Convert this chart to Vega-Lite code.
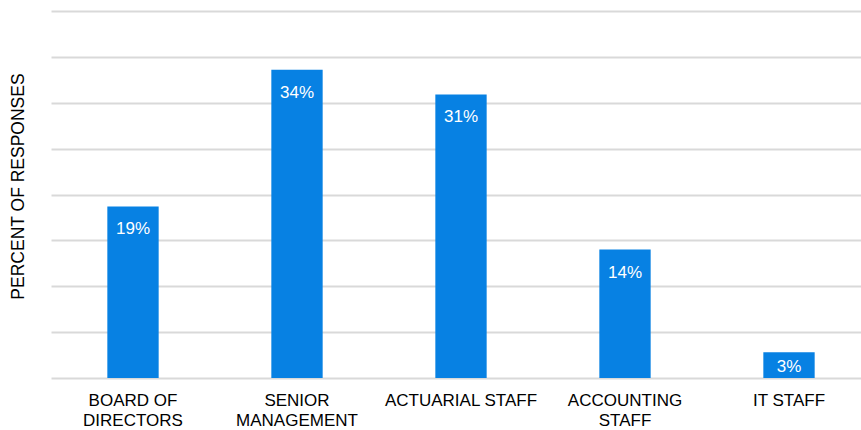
{
  "$schema": "https://vega.github.io/schema/vega-lite/v6.json",
  "width": 820,
  "height": 367,
  "autosize": {"type": "none"},
  "padding": {"left": 51, "top": 11, "right": 0, "bottom": 52},
  "background": "white",
  "config": {
    "font": "Liberation Sans",
    "view": {"stroke": null}
  },
  "data": {
    "values": [
      {"role": "BOARD OF DIRECTORS", "pct": 18.7, "label": "19%"},
      {"role": "SENIOR MANAGEMENT", "pct": 33.6, "label": "34%"},
      {"role": "ACTUARIAL STAFF", "pct": 30.9, "label": "31%"},
      {"role": "ACCOUNTING STAFF", "pct": 14.0, "label": "14%"},
      {"role": "IT STAFF", "pct": 2.8, "label": "3%"}
    ]
  },
  "encoding": {
    "x": {
      "field": "role",
      "type": "nominal",
      "sort": null,
      "scale": {"paddingInner": 0.687, "paddingOuter": 0.3435},
      "axis": {
        "title": null,
        "domain": false,
        "ticks": false,
        "labelAngle": 0,
        "labelFontSize": 17,
        "labelColor": "#000000",
        "labelPadding": 14,
        "labelLineHeight": 20,
        "labelBaseline": "top",
        "labelExpr": "datum.value == 'BOARD OF DIRECTORS' ? ['BOARD OF', 'DIRECTORS'] : datum.value == 'SENIOR MANAGEMENT' ? ['SENIOR', 'MANAGEMENT'] : datum.value == 'ACCOUNTING STAFF' ? ['ACCOUNTING', 'STAFF'] : datum.value"
      }
    },
    "y": {
      "field": "pct",
      "type": "quantitative",
      "scale": {"domain": [0, 40], "nice": false},
      "axis": {
        "title": "PERCENT OF RESPONSES",
        "values": [0, 5, 10, 15, 20, 25, 30, 35, 40],
        "labels": false,
        "ticks": false,
        "domain": false,
        "grid": true,
        "gridColor": "#d9d9d9",
        "gridWidth": 2,
        "titleFontSize": 17.5,
        "titleFontWeight": "normal",
        "titleColor": "#000000",
        "titleAngle": -90,
        "titleBaseline": "middle",
        "titleAlign": "center",
        "titleX": -33,
        "titleY": 175
      }
    }
  },
  "layer": [
    {"mark": {"type": "bar", "color": "#0781e3"}},
    {
      "transform": [{"filter": "datum.pct >= 5"}],
      "mark": {"type": "text", "color": "white", "fontSize": 17, "baseline": "alphabetic", "dy": 28},
      "encoding": {"text": {"field": "label"}}
    },
    {
      "transform": [{"filter": "datum.pct < 5"}],
      "mark": {"type": "text", "color": "white", "fontSize": 17, "baseline": "alphabetic", "dy": 20},
      "encoding": {"text": {"field": "label"}}
    }
  ]
}
